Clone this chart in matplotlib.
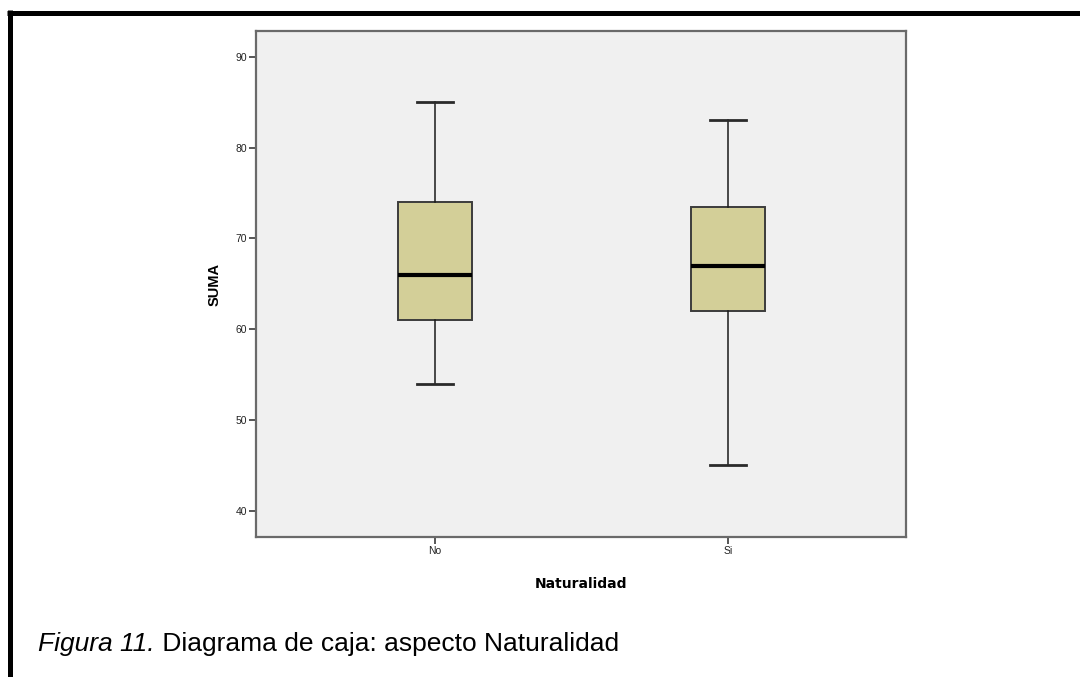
import matplotlib
matplotlib.use('Agg')
import matplotlib.pyplot as plt
from matplotlib.lines import Line2D

# box statistics
groups = ['No', 'Si']
whisker_low = [54, 45]
q1 = [61, 62]
median = [66, 67]
q3 = [74, 73.5]
whisker_high = [85, 83]

y_ticks = [40, 50, 60, 70, 80, 90]

stats = []
for i, name in enumerate(groups):
    stats.append({'label': name, 'whislo': whisker_low[i], 'q1': q1[i], 'med': median[i],
                  'q3': q3[i], 'whishi': whisker_high[i], 'fliers': []})

plt.rcParams['font.family'] = ['Liberation Sans', 'DejaVu Sans']

fig = plt.figure(figsize=(10.8, 6.77), dpi=100)
fig.patch.set_facecolor('white')
ax = fig.add_axes([256 / 1080, 1 - 537 / 677, 650 / 1080, 506 / 677])
ax.set_facecolor('#f0f0f0')

ax.bxp(stats, positions=[1, 2], widths=0.25, patch_artist=True, showfliers=False,
       boxprops=dict(facecolor='#d3cf98', edgecolor='#3c3c3c', linewidth=1.4),
       medianprops=dict(color='black', linewidth=3),
       whiskerprops=dict(color='#1a1a1a', linewidth=1.1),
       capprops=dict(color='#2a2a2a', linewidth=2))

ax.set_xlim(0.389, 2.607)
ax.set_ylim(37.1, 92.85)
ax.set_yticks(y_ticks)
ax.set_xticks([1, 2])
ax.set_xticklabels(groups)

for s in ax.spines.values():
    s.set_color('#6a6a6a')
    s.set_linewidth(1.6)

ax.tick_params(axis='both', direction='out', length=5, width=1.2, color='#3a3a3a',
               labelsize=7.5, labelcolor='#222222', pad=1.5)

ax.set_ylabel('SUMA', fontsize=10.5, fontweight='bold', labelpad=10)
ax.set_xlabel('Naturalidad', fontsize=10, fontweight='bold', family=['DejaVu Sans'], labelpad=15)

# caption below the chart: italic figure number then plain text
t1 = fig.text(38 / 1080, 1 - 651 / 677, 'Figura 11.', fontsize=19, style='italic',
              ha='left', va='baseline', color='black')
ax.annotate(' Diagrama de caja: aspecto Naturalidad', xy=(1, 0), xycoords=t1,
            fontsize=19, ha='left', va='bottom', color='black', annotation_clip=False)

# border of the table cell
fig.add_artist(Line2D([7 / 1080, 1], [1 - 12.5 / 677, 1 - 12.5 / 677], transform=fig.transFigure,
                      color='black', linewidth=3.6, solid_capstyle='butt'))
fig.add_artist(Line2D([9.5 / 1080, 9.5 / 1080], [0, 1 - 10 / 677], transform=fig.transFigure,
                      color='black', linewidth=3.6, solid_capstyle='butt'))

fig.savefig('out.png', dpi=100, facecolor='white')
